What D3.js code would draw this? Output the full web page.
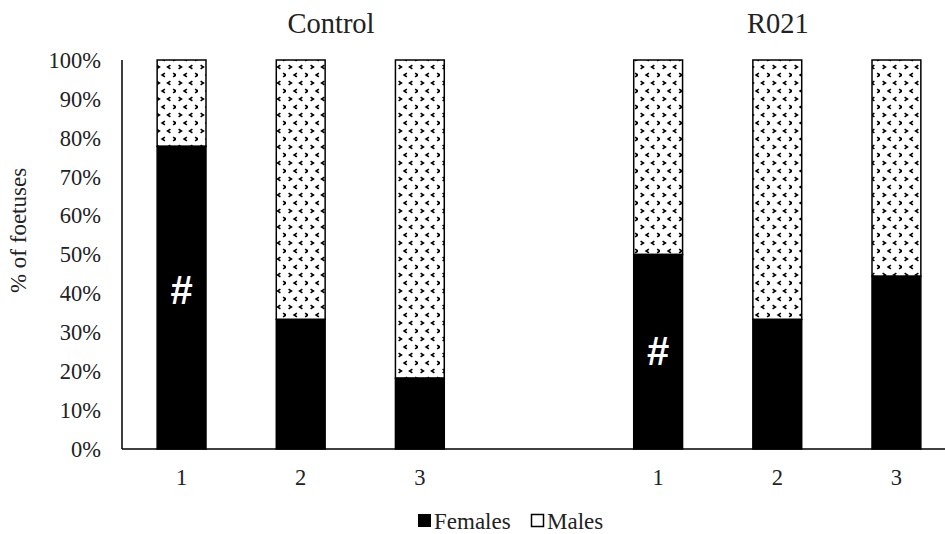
<!DOCTYPE html>
<html>
<head>
<meta charset="utf-8">
<script src="https://cdn.jsdelivr.net/npm/d3@7"></script>
<style>
  html, body { margin: 0; padding: 0; background: #fff; }
  svg { display: block; }
  svg text { font-family: "Liberation Serif", "DejaVu Serif", serif; }
  svg text.hash { font-family: "Liberation Sans", "DejaVu Sans", sans-serif; }
</style>
</head>
<body>
<svg id="chart" width="945" height="534"></svg>
<script>
// data
const slots = ["c1", "c2", "c3", "gap", "r1", "r2", "r3"];
const slotLabels = ["1", "2", "3", "", "1", "2", "3"];
const groups = ["c1", "c2", "c3", "r1", "r2", "r3"];
const females = [77.8, 33.3, 18.2, 50, 33.3, 44.4];
const males = females.map((f) => 100 - f);
const yTicks = [0, 10, 20, 30, 40, 50, 60, 70, 80, 90, 100];
const marks = [{ slot: "c1", value: 41 }, { slot: "r1", value: 25.4 }];
const panelTitles = [{ text: "Control", x: 331 }, { text: "R021", x: 778 }];

const svg = d3.select("#chart");
const M = { left: 122, top: 60, bottom: 449, right: 956 };

const x = d3.scaleBand().domain(slots).range([M.left, M.right]).paddingInner(0.59).paddingOuter(0.295);
const y = d3.scaleLinear().domain([0, 100]).range([M.bottom, M.top]);

// motivo de pontinhos dos machos
const defs = svg.append("defs");
const pat = defs.append("pattern")
  .attr("id", "dots")
  .attr("patternUnits", "userSpaceOnUse")
  .attr("width", 22)
  .attr("height", 16);
pat.append("rect").attr("width", 22).attr("height", 16).attr("fill", "#fff");
const chev = [
  [4, 3, 1], [15, 3, -1],
  [9.5, 11, -1], [20.5, 11, 1],
];
chev.forEach(([cx, cy, dir]) => {
  pat.append("path")
    .attr("d", `M${cx - dir * 1.4},${cy - 1.8} L${cx + dir * 1.4},${cy} L${cx - dir * 1.4},${cy + 1.8}`)
    .attr("fill", "none")
    .attr("stroke", "#000")
    .attr("stroke-width", 1.6);
});

const rows = groups.map((g, i) => ({ slot: g, f: females[i], m: males[i] }));

// barras empilhadas
const bars = svg.append("g");
bars.selectAll("rect.m")
  .data(rows)
  .join("rect")
  .attr("class", "m")
  .attr("x", (d) => x(d.slot))
  .attr("width", x.bandwidth())
  .attr("y", (d) => y(d.f + d.m))
  .attr("height", (d) => y(d.f) - y(d.f + d.m))
  .attr("fill", "url(#dots)")
  .attr("stroke", "#000")
  .attr("stroke-width", 1.5);
bars.selectAll("rect.f")
  .data(rows)
  .join("rect")
  .attr("class", "f")
  .attr("x", (d) => x(d.slot))
  .attr("width", x.bandwidth())
  .attr("y", (d) => y(d.f))
  .attr("height", (d) => y(0) - y(d.f))
  .attr("fill", "#000")
  .attr("stroke", "#000")
  .attr("stroke-width", 1.5);

// eixos
svg.append("line")
  .attr("x1", M.left).attr("x2", M.left)
  .attr("y1", y(100)).attr("y2", y(0))
  .attr("stroke", "#000").attr("stroke-width", 1.5);
svg.append("line")
  .attr("x1", M.left).attr("x2", M.right)
  .attr("y1", y(0)).attr("y2", y(0))
  .attr("stroke", "#000").attr("stroke-width", 1.5);

svg.append("g")
  .selectAll("text")
  .data(yTicks)
  .join("text")
  .attr("x", M.left - 21)
  .attr("y", (d) => y(d))
  .attr("dy", "0.35em")
  .attr("text-anchor", "end")
  .attr("font-size", 22.5)
  .attr("fill", "#222")
  .text((d) => d + "%");

svg.append("g")
  .selectAll("text")
  .data(slots)
  .join("text")
  .attr("x", (d) => x(d) + x.bandwidth() / 2)
  .attr("y", 485)
  .attr("text-anchor", "middle")
  .attr("font-size", 22.5)
  .attr("fill", "#222")
  .text((d, i) => slotLabels[i]);

svg.append("text")
  .attr("transform", `translate(26,${(y(0) + y(100)) / 2 - 24}) rotate(-90)`)
  .attr("text-anchor", "middle")
  .attr("font-size", 23)
  .attr("fill", "#222")
  .text("% of foetuses");

svg.append("g")
  .selectAll("text")
  .data(panelTitles)
  .join("text")
  .attr("x", (d) => d.x)
  .attr("y", 33)
  .attr("text-anchor", "middle")
  .attr("font-size", 28.5)
  .attr("fill", "#222")
  .text((d) => d.text);

// marcas # de significancia
svg.append("g")
  .selectAll("text")
  .data(marks)
  .join("text")
  .attr("class", "hash")
  .attr("x", (d) => x(d.slot) + x.bandwidth() / 2)
  .attr("y", (d) => y(d.value))
  .attr("dy", "0.36em")
  .attr("text-anchor", "middle")
  .attr("font-size", 40)
  .attr("font-weight", "bold")
  .attr("fill", "#fff")
  .text("#");

// legenda
const leg = svg.append("g");
leg.append("rect").attr("x", 418).attr("y", 514).attr("width", 13).attr("height", 13).attr("fill", "#000");
leg.append("text").attr("x", 434).attr("y", 529).attr("font-size", 23).attr("fill", "#222").text("Females");
leg.append("rect").attr("x", 531.5).attr("y", 514.5).attr("width", 12).attr("height", 12)
  .attr("fill", "#fff").attr("stroke", "#000").attr("stroke-width", 1.5);
leg.append("text").attr("x", 547).attr("y", 529).attr("font-size", 23).attr("fill", "#222").text("Males");
</script>
</body>
</html>
